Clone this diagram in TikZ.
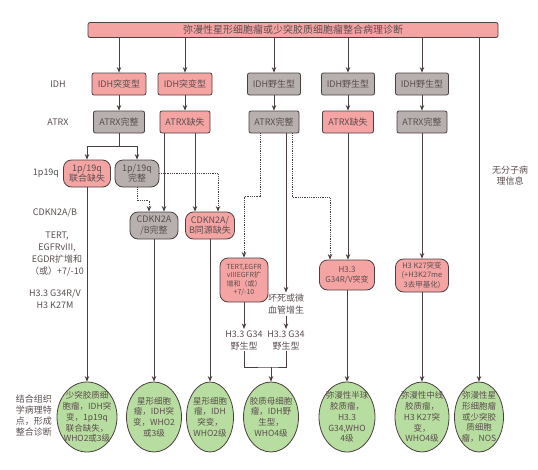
\documentclass[tikz,border=0pt]{standalone}
\usepackage{fontspec}
\setmainfont{Noto Sans CJK SC}
\usetikzlibrary{arrows.meta,shapes.geometric}
\definecolor{pk}{RGB}{245,164,164}
\definecolor{gy}{RGB}{184,175,175}
\definecolor{gn}{RGB}{184,221,160}
\definecolor{ln}{RGB}{74,64,64}
\definecolor{tx}{RGB}{90,78,78}

\begin{document}
\begin{tikzpicture}[x=1pt,y=-1pt,>={Stealth[length=5.5pt,width=4.5pt]},node distance=38pt,color=ln,line width=0.8pt,
	nbox/.style={draw=ln,line width=0.8pt,text=tx,inner sep=2pt,align=center},
	sq/.style={nbox,rectangle,rounded corners=2pt,minimum height=22pt,font=\fontsize{9}{11}\selectfont},
	rnd/.style={nbox,rectangle,rounded corners=8pt,font=\fontsize{9}{10.5}\selectfont},
	pink/.style={fill=pk},
	grey/.style={fill=gy},
	res/.style={nbox,ellipse,fill=gn,inner sep=-4pt,minimum height=70pt,font=\fontsize{8.5}{10.8}\selectfont},
	lab/.style={text=tx,align=center,inner sep=1pt,font=\fontsize{9}{12}\selectfont},
	dots/.style={densely dotted}]

\useasboundingbox (0,0) rectangle (538,469);

\node[nbox,pink,minimum width=410pt,minimum height=15pt,rounded corners=2pt,inner sep=0pt,font=\fontsize{10}{12}\selectfont] (top) at (293,30) {弥漫性星形细胞瘤或少突胶质细胞瘤整合病理诊断};

\node[lab]   (lidh)   at (58,84)      {IDH};
\node[lab]   (latrx)  at (58,122)     {ATRX};
\node[lab]   (lp)     at (46,173)     {1p19q};
\node[lab]   (lcd)    at (55,213)     {CDKN2A/B};
\node[lab]   (lte)    at (57,254)     {TERT,\\EGFRvIII,\\EGDR扩增和\\（或）+7/-10};
\node[lab]   (lh3)    at (55,299)     {H3.3 G34R/V\\H3 K27M};
\node[lab,font=\fontsize{9}{11}\selectfont]   (lres)   at (34,416)     {结合组织\\学病理特\\点，形成\\整合诊断};
\node[lab,font=\fontsize{9}{11}\selectfont]   (lnone)  at (510,176)    {无分子病\\理信息};

\node[sq,pink,minimum width=54pt]   (i1)   at (119,84)   {IDH突变型};
\node[sq,pink,minimum width=54pt]   (i2)   at (185,84)   {IDH突变型};
\node[sq,grey,minimum width=53pt]   (i3)   at (274,84)   {IDH野生型};
\node[sq,grey,minimum width=53pt]   (i4)   at (348,84)   {IDH野生型};
\node[sq,grey,minimum width=53pt]   (i5)   at (422,84)   {IDH野生型};

\node[sq,grey,minimum width=51pt]   (a1)[below of=i1]   {ATRX完整};
\node[sq,pink,minimum width=50pt]   (a2)[below of=i2]   {ATRX缺失};
\node[sq,grey,minimum width=50pt]   (a3)[below of=i3]   {ATRX完整};
\node[sq,pink,minimum width=51pt]   (a4)[below of=i4]   {ATRX缺失};
\node[sq,grey,minimum width=50pt]   (a5)[below of=i5]   {ATRX完整};

\node[rnd,pink,minimum width=47pt,minimum height=27pt]   (p1)   at (87,173.5)    {1p/19q\\联合缺失};
\node[rnd,grey,minimum width=44pt,minimum height=27pt]   (p2)   at (137,173.5)   {1p/19q\\完整};
\node[rnd,grey,minimum width=48pt,minimum height=27pt]   (k1)   at (154,225.5)   {CDKN2A\\/B完整};
\node[rnd,pink,minimum width=49pt,minimum height=27pt]   (k2)   at (210,225.5)   {CDKN2A/\\B同源缺失};
\node[rnd,pink,minimum width=48pt,minimum height=44pt,font=\fontsize{7}{8.5}\selectfont]   (t)   at (244,280)   {TERT,EGFR\\vIIIEGFR扩\\增和（或）\\+7/-10};
\node[rnd,pink,minimum width=55pt,minimum height=30pt,font=\fontsize{8}{10}\selectfont]   (g)   at (347,275)   {H3.3\\G34R/V突变};
\node[rnd,pink,minimum width=53pt,minimum height=33pt,font=\fontsize{7.5}{9.5}\selectfont]   (kk)   at (422,275.5)   {H3 K27突变\\(+H3K27me\\3去甲基化)};

\node[lab]   (nec)   at (286,304)   {坏死或微\\血管增生};
\node[lab]   (w1)    at (244,340)   {H3.3 G34\\野生型};
\node[lab]   (w2)    at (286,340)   {H3.3 G34\\野生型};

\node[res,minimum width=60pt]   (r1)   at (87,417)    {少突胶质细\\胞瘤，IDH突\\变，1p19q\\联合缺失，\\WHO2或3级};
\node[res,minimum width=55pt]   (r2)   at (154,417)   {星形细胞\\瘤，IDH突\\变，WHO2\\或3级};
\node[res,minimum width=47pt]   (r3)   at (210,417)   {星形细胞\\瘤，IDH\\突变，\\WHO2级};
\node[res,minimum width=55pt]   (r4)   at (271,417)   {胶质母细胞\\瘤，IDH野\\生型，\\WHO4级};
\node[res,minimum width=56pt]   (r5)   at (347,417)   {弥漫性半球\\胶质瘤，\\H3.3\\G34,WHO\\4级};
\node[res,minimum width=54pt]   (r6)   at (422,417)   {弥漫性中线\\胶质瘤，\\H3 K27突\\变，\\WHO4级};
\node[res,minimum width=49pt]   (r7)   at (479,417)   {弥漫性星\\形细胞瘤\\或少突胶\\质细胞\\瘤，NOS};

\path[->] (top.south -| i1) edge (i1)
          (top.south -| i2) edge (i2)
          (top.south -| i3) edge (i3)
          (top.south -| i4) edge (i4)
          (top.south -| i5) edge (i5)
          (top.south -| r7) edge (r7)
          (i1) edge (a1)
          (i2) edge (a2)
          (i3) edge (a3)
          (i4) edge (a4)
          (i5) edge (a5)
          (a5) edge (kk)
          (p1) edge (r1)
          (k1) edge (r2)
          (k2) edge (r3)
          (g) edge (r5)
          (kk) edge (r6)
          (t) edge (w1)
          (nec) edge (w2);

\draw[->] (a1.south) -- ++(0,13) -| (p1);
\draw[->] (a1.south) -- ++(0,13) -| (p2);
\draw[->] ([xshift=-21pt]a2.south) -- ([xshift=-21pt]a2.south |- k1.north);
\draw[->] ([xshift=10pt]a2.south) -- ([xshift=10pt]a2.south |- k2.north);
\draw[dots,->] (p2.south) -- ++(0,13) -| ([xshift=-5pt]k1.north);
\draw[dots,->] (p2.east) -| ([xshift=8pt]k2.north);
\draw[dots,->] ([xshift=-14pt]a3.south) -- ++(0,63) -| (t);
\draw[->] ([xshift=12pt]a3.south) -- (nec);
\draw[dots,->] ([xshift=18pt]a3.south) -- ++(0,64) -| ([xshift=-17pt]g.north);
\draw[->] (a4) -- (a4 |- g.north);
\coordinate (jn) at (271,367);
\draw (w1) |- (jn) -| (w2);
\draw[->] (jn) -- (r4);

\end{tikzpicture}
\end{document}
